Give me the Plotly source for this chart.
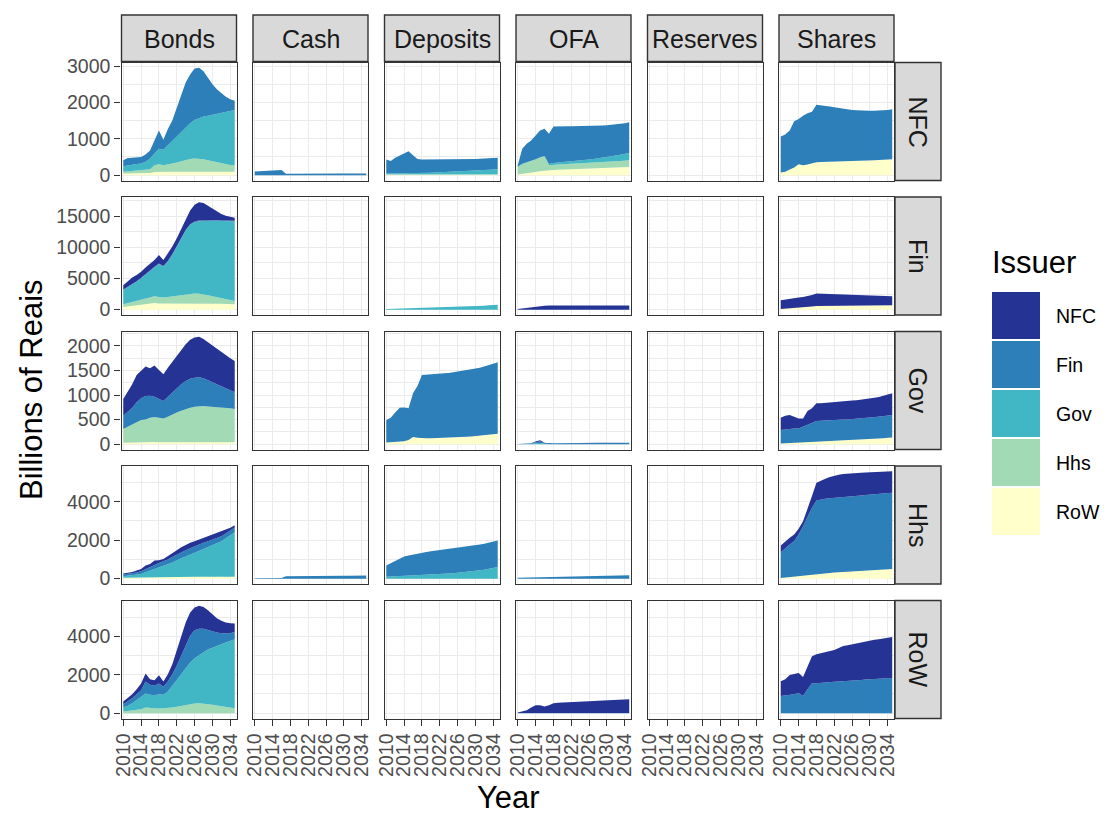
import plotly.graph_objects as go

years = list(range(2010, 2036))
instruments = ["Bonds", "Cash", "Deposits", "OFA", "Reserves", "Shares"]
holders = ["NFC", "Fin", "Gov", "Hhs", "RoW"]
issuers = ["NFC", "Fin", "Gov", "Hhs", "RoW"]
colors = {"NFC": "#253494", "Fin": "#2c7fb8", "Gov": "#41b6c4", "Hhs": "#a1dab4", "RoW": "#ffffcc"}

# ---------------- data (billions of reais), 2010..2035 ----------------
nfc_bonds = {
    "RoW": [45, 46, 48, 50, 52, 55, 58, 85, 90, 88, 90, 90, 90, 90, 90, 90, 90, 90, 90, 90, 90, 90, 90, 90, 90, 90],
    "Hhs": [45, 59, 70, 78, 84, 95, 106, 188, 210, 185, 200, 228, 255, 292, 328, 355, 365, 365, 346, 320, 292, 265, 237, 210, 192, 174],
    "Gov": [155, 165, 172, 177, 184, 215, 291, 317, 427, 427, 528, 618, 719, 798, 900, 982, 1063, 1118, 1174, 1226, 1282, 1335, 1391, 1445, 1491, 1526],
    "Fin": [165, 200, 190, 185, 180, 205, 225, 365, 503, 270, 452, 564, 796, 1050, 1227, 1343, 1417, 1377, 1250, 1044, 836, 670, 527, 410, 317, 255],
}
nfc_cash = {
    "Fin": [100, 105, 110, 115, 120, 130, 140, 40, 42, 42, 42, 42, 42, 43, 43, 43, 43, 44, 44, 44, 44, 45, 45, 45, 45, 45],
}
nfc_deposits = {
    "RoW": [15, 15, 15, 15, 15, 15, 15, 15, 15, 15, 15, 15, 15, 15, 15, 15, 15, 15, 15, 15, 15, 15, 15, 15, 15, 15],
    "Gov": [30, 30, 32, 35, 38, 40, 40, 42, 45, 48, 50, 55, 60, 65, 70, 75, 80, 85, 90, 95, 100, 110, 120, 130, 140, 150],
    "Fin": [382, 345, 433, 495, 557, 600, 490, 388, 367, 364, 362, 357, 352, 347, 342, 340, 337, 335, 333, 332, 331, 325, 320, 317, 315, 315],
}
nfc_ofa = {
    "RoW": [20, 40, 60, 80, 95, 110, 118, 136, 140, 145, 150, 155, 160, 165, 170, 175, 180, 185, 190, 195, 200, 205, 210, 215, 220, 227],
    "Hhs": [207, 260, 285, 302, 332, 372, 400, 137, 150, 150, 150, 150, 150, 150, 150, 150, 150, 150, 150, 155, 160, 165, 170, 175, 180, 183],
    "Gov": [10, 10, 10, 10, 10, 10, 10, 30, 46, 50, 55, 60, 65, 70, 80, 90, 100, 110, 120, 130, 140, 150, 160, 170, 185, 200],
    "Fin": [36, 417, 509, 563, 653, 735, 745, 833, 1000, 1000, 990, 980, 970, 960, 945, 930, 920, 910, 900, 885, 870, 860, 855, 850, 845, 845],
}
nfc_shares = {
    "RoW": [73, 91, 155, 209, 300, 273, 290, 318, 355, 358, 364, 368, 372, 376, 380, 384, 388, 392, 396, 400, 405, 410, 415, 420, 428, 436],
    "Fin": [991, 1027, 1072, 1273, 1245, 1363, 1410, 1427, 1581, 1569, 1545, 1522, 1492, 1469, 1438, 1416, 1402, 1390, 1377, 1373, 1368, 1363, 1358, 1360, 1362, 1373],
}

fin_bonds = {
    "RoW": [430, 510, 591, 672, 753, 860, 968, 1075, 968, 968, 1075, 1075, 1075, 1075, 1075, 1075, 1075, 1050, 1020, 1000, 980, 960, 940, 920, 890, 860],
    "Hhs": [430, 540, 645, 753, 860, 890, 914, 1075, 1075, 967, 968, 1075, 1183, 1290, 1398, 1455, 1505, 1480, 1453, 1310, 1170, 1030, 888, 745, 615, 538],
    "Gov": [2258, 2498, 2796, 3037, 3387, 3787, 4300, 4624, 5268, 4946, 5645, 6613, 7849, 9086, 10215, 11071, 11451, 11662, 11773, 11936, 12096, 12256, 12418, 12581, 12687, 12741],
    "Fin": [100, 100, 100, 100, 100, 100, 100, 100, 100, 100, 100, 100, 100, 100, 100, 100, 100, 100, 100, 100, 100, 100, 100, 100, 100, 100],
    "NFC": [707, 975, 1029, 975, 975, 1137, 1029, 1082, 1352, 975, 1244, 1244, 1243, 1349, 1727, 2212, 2696, 2911, 2750, 2320, 1782, 1352, 976, 707, 546, 491],
}
fin_deposits = {
    "Gov": [100, 120, 140, 160, 180, 200, 220, 240, 260, 280, 300, 320, 340, 365, 390, 415, 440, 470, 500, 530, 560, 600, 640, 690, 740, 800],
}
fin_ofa = {
    "NFC": [100, 200, 300, 400, 500, 580, 640, 650, 650, 650, 650, 650, 650, 650, 650, 650, 650, 650, 650, 650, 650, 650, 650, 650, 650, 650],
}
fin_shares = {
    "RoW": [108, 150, 190, 230, 269, 350, 430, 510, 591, 600, 605, 610, 615, 620, 625, 630, 635, 640, 645, 650, 660, 670, 675, 685, 690, 699],
    "NFC": [1397, 1490, 1584, 1625, 1666, 1693, 1720, 1855, 1989, 1960, 1935, 1910, 1885, 1860, 1835, 1810, 1785, 1760, 1735, 1690, 1640, 1590, 1555, 1515, 1480, 1451],
}

gov_bonds = {
    "RoW": [30, 32, 35, 38, 42, 50, 50, 45, 40, 40, 40, 40, 40, 40, 40, 40, 40, 40, 40, 40, 40, 40, 40, 40, 40, 40],
    "Hhs": [276, 322, 366, 418, 448, 453, 487, 506, 504, 484, 518, 565, 606, 640, 674, 701, 722, 735, 735, 728, 722, 715, 708, 701, 688, 674],
    "Fin": [272, 306, 340, 394, 442, 476, 449, 415, 374, 353, 408, 449, 490, 537, 571, 592, 591, 585, 565, 531, 496, 456, 422, 388, 367, 340],
    "NFC": [340, 408, 476, 558, 557, 599, 558, 632, 592, 544, 591, 626, 666, 701, 748, 789, 816, 823, 802, 775, 748, 727, 700, 673, 653, 639],
}
gov_deposits = {
    "RoW": [34, 38, 44, 50, 61, 82, 143, 129, 116, 118, 120, 122, 124, 127, 130, 136, 140, 145, 150, 156, 163, 170, 180, 190, 200, 211],
    "Fin": [456, 499, 602, 691, 687, 646, 891, 1054, 1292, 1294, 1295, 1298, 1305, 1313, 1320, 1326, 1335, 1345, 1353, 1364, 1374, 1387, 1398, 1415, 1435, 1455],
}
gov_ofa = {
    "Gov": [0, 0, 0, 5, 20, 25, 10, 0, 0, 0, 0, 0, 0, 0, 0, 0, 0, 0, 0, 0, 0, 0, 0, 0, 0, 0],
    "Fin": [5, 8, 10, 12, 20, 30, 15, 15, 18, 20, 20, 20, 20, 22, 22, 22, 24, 24, 24, 26, 26, 26, 28, 28, 30, 30],
    "NFC": [0, 0, 0, 0, 15, 25, 5, 0, 0, 0, 0, 0, 0, 0, 0, 0, 0, 0, 0, 0, 0, 0, 0, 0, 0, 0],
}
gov_shares = {
    "RoW": [14, 18, 22, 26, 30, 34, 39, 44, 48, 52, 55, 60, 64, 68, 72, 75, 80, 86, 91, 96, 102, 108, 115, 122, 129, 136],
    "Fin": [272, 281, 298, 294, 290, 320, 362, 378, 421, 424, 428, 427, 427, 427, 427, 428, 430, 431, 433, 434, 435, 440, 444, 448, 452, 456],
    "NFC": [251, 279, 272, 238, 204, 170, 272, 306, 361, 354, 353, 356, 359, 364, 369, 374, 376, 378, 380, 388, 395, 397, 401, 415, 429, 442],
}

hhs_bonds = {
    "RoW": [50, 55, 60, 65, 70, 80, 87, 90, 90, 90, 90, 92, 94, 96, 98, 100, 100, 100, 100, 100, 100, 100, 100, 100, 100, 100],
    "Gov": [72, 93, 114, 143, 173, 250, 330, 397, 466, 553, 640, 751, 862, 965, 1067, 1170, 1274, 1361, 1448, 1543, 1639, 1743, 1848, 1996, 2143, 2317],
    "Fin": [87, 87, 87, 112, 140, 166, 192, 226, 261, 261, 261, 279, 296, 304, 313, 313, 313, 313, 313, 305, 296, 279, 261, 252, 244, 244],
    "NFC": [52, 61, 87, 97, 121, 182, 156, 226, 139, 122, 174, 182, 226, 270, 278, 278, 261, 261, 243, 243, 226, 226, 226, 174, 156, 121],
}
hhs_cash = {
    "Fin": [20, 22, 25, 28, 30, 33, 36, 120, 125, 128, 130, 132, 134, 136, 138, 140, 142, 144, 146, 148, 150, 151, 152, 154, 155, 157],
}
hhs_deposits = {
    "Gov": [100, 110, 120, 130, 140, 150, 160, 170, 180, 190, 200, 215, 230, 245, 260, 280, 300, 320, 340, 370, 400, 430, 460, 500, 550, 600],
    "Fin": [580, 690, 800, 910, 1010, 1050, 1090, 1130, 1180, 1200, 1220, 1235, 1250, 1265, 1280, 1290, 1300, 1310, 1320, 1330, 1340, 1350, 1360, 1370, 1370, 1380],
}
hhs_ofa = {
    "Fin": [40, 45, 50, 55, 60, 65, 70, 75, 80, 85, 90, 95, 100, 105, 110, 115, 120, 125, 130, 135, 140, 145, 150, 160, 170, 180],
}
hhs_shares = {
    "RoW": [35, 60, 87, 105, 122, 165, 209, 235, 261, 278, 296, 310, 324, 338, 352, 365, 379, 393, 407, 421, 435, 449, 463, 476, 490, 504],
    "Fin": [1339, 1540, 1687, 1843, 2174, 2565, 3008, 3452, 3808, 3843, 3860, 3872, 3884, 3897, 3909, 3913, 3916, 3920, 3923, 3927, 3930, 3934, 3937, 3949, 3957, 3965],
    "NFC": [348, 348, 348, 348, 295, 261, 383, 608, 922, 992, 1044, 1105, 1148, 1165, 1182, 1192, 1200, 1192, 1183, 1172, 1165, 1155, 1147, 1135, 1123, 1113],
}

row_bonds = {
    "Hhs": [87, 122, 157, 183, 209, 296, 261, 252, 243, 252, 261, 296, 330, 383, 435, 470, 504, 522, 504, 470, 435, 400, 365, 330, 296, 261],
    "Gov": [209, 261, 365, 495, 643, 730, 695, 687, 748, 704, 869, 1130, 1392, 1652, 1913, 2173, 2365, 2521, 2678, 2851, 2991, 3113, 3235, 3357, 3478, 3600],
    "Fin": [174, 226, 261, 313, 348, 626, 522, 487, 557, 418, 522, 609, 747, 956, 1165, 1391, 1461, 1357, 1218, 1009, 834, 695, 574, 469, 400, 382],
    "NFC": [139, 174, 208, 261, 348, 417, 296, 296, 434, 278, 383, 521, 783, 1043, 1217, 1218, 1183, 1200, 1147, 1044, 905, 748, 643, 574, 521, 435],
}
row_ofa = {
    "Gov": [0, 0, 0, 10, 15, 15, 10, 5, 0, 0, 0, 0, 0, 0, 0, 0, 0, 0, 0, 0, 0, 0, 0, 0, 0, 0],
    "Fin": [5, 8, 10, 12, 15, 15, 12, 10, 10, 10, 10, 10, 10, 10, 10, 10, 10, 10, 10, 10, 10, 10, 10, 10, 10, 10],
    "NFC": [30, 79, 147, 274, 387, 387, 326, 402, 512, 529, 546, 559, 570, 582, 593, 605, 617, 628, 640, 651, 663, 674, 686, 697, 709, 720],
}
row_shares = {
    "Fin": [890, 915, 940, 990, 1045, 890, 1250, 1565, 1565, 1590, 1620, 1630, 1640, 1650, 1660, 1670, 1690, 1710, 1730, 1750, 1775, 1785, 1795, 1810, 1820, 1830],
    "NFC": [780, 860, 1045, 1050, 1045, 990, 1150, 1410, 1515, 1540, 1565, 1610, 1650, 1745, 1840, 1880, 1910, 1940, 1970, 2005, 2035, 2050, 2065, 2090, 2115, 2140],
}

panels = {
    ("NFC", "Bonds"): nfc_bonds, ("NFC", "Cash"): nfc_cash, ("NFC", "Deposits"): nfc_deposits,
    ("NFC", "OFA"): nfc_ofa, ("NFC", "Shares"): nfc_shares,
    ("Fin", "Bonds"): fin_bonds, ("Fin", "Deposits"): fin_deposits, ("Fin", "OFA"): fin_ofa,
    ("Fin", "Shares"): fin_shares,
    ("Gov", "Bonds"): gov_bonds, ("Gov", "Deposits"): gov_deposits, ("Gov", "OFA"): gov_ofa,
    ("Gov", "Shares"): gov_shares,
    ("Hhs", "Bonds"): hhs_bonds, ("Hhs", "Cash"): hhs_cash, ("Hhs", "Deposits"): hhs_deposits,
    ("Hhs", "OFA"): hhs_ofa, ("Hhs", "Shares"): hhs_shares,
    ("RoW", "Bonds"): row_bonds, ("RoW", "OFA"): row_ofa, ("RoW", "Shares"): row_shares,
}

y_tickvals = {
    "NFC": [0, 1000, 2000, 3000],
    "Fin": [0, 5000, 10000, 15000],
    "Gov": [0, 500, 1000, 1500, 2000],
    "Hhs": [0, 2000, 4000],
    "RoW": [0, 2000, 4000],
}
x_tickvals = [2010, 2014, 2018, 2022, 2026, 2030, 2034]

# ---------------- layout geometry (pixels) ----------------
W, H = 1107, 817
col_left = [121.5, 253, 384.5, 516, 647.5, 779]
col_w = 115
row_top = [62.5, 197, 331.5, 466, 600.5]
row_h = 118
strip_top = 15
strip_right_w = 46


def px(x):
    return x / W


def py(y):
    return 1 - y / H


FONT = "Liberation Sans, Arial, Helvetica, sans-serif"
TICK_SIZE = 19.5
STRIP_SIZE = 25
TITLE_SIZE = 31
stack_order = ["RoW", "Hhs", "Gov", "Fin", "NFC"]

fig = go.Figure()
layout = {}
shapes = []
annotations = []

for r, holder in enumerate(holders):
    # free y-scale per row (like ggplot facet_grid scales="free_y")
    row_max = 0
    for inst in instruments:
        d = panels.get((holder, inst), {})
        if d:
            tot = [sum(d[k][i] for k in d) for i in range(len(years))]
            row_max = max(row_max, max(tot))
    yr = [-0.05 * row_max, 1.05 * row_max]
    step = y_tickvals[holder][1] - y_tickvals[holder][0]

    for c, inst in enumerate(instruments):
        idx = r * 6 + c + 1
        xa = "x" if idx == 1 else f"x{idx}"
        ya = "y" if idx == 1 else f"y{idx}"
        d = panels.get((holder, inst), {})
        # invisible anchor trace so that every facet panel is drawn
        fig.add_trace(go.Scatter(x=[years[0]], y=[0], mode="markers", marker=dict(opacity=0),
                                 hoverinfo="skip", showlegend=False, xaxis=xa, yaxis=ya))
        for iss in stack_order:
            if iss in d:
                fig.add_trace(go.Scatter(
                    x=years, y=d[iss], mode="lines", stackgroup=f"g{idx}",
                    line=dict(width=0, color=colors[iss]), fillcolor=colors[iss],
                    name=iss, showlegend=False, xaxis=xa, yaxis=ya,
                ))
        bottom = r == len(holders) - 1
        left = c == 0
        layout["xaxis" if idx == 1 else f"xaxis{idx}"] = dict(
            domain=[px(col_left[c]), px(col_left[c] + col_w)],
            anchor=ya, range=[2009.6, 2035.4], automargin=False,
            tickvals=x_tickvals, ticktext=[str(v) for v in x_tickvals],
            showgrid=True, gridcolor="#ebebeb", gridwidth=1.3,
            zeroline=False, showline=True, mirror=True, linecolor="#333333", linewidth=1.4,
            ticks="outside" if bottom else "", ticklen=6, tickwidth=1.4, tickcolor="#333333",
            showticklabels=bottom, tickangle=-90,
            tickfont=dict(family=FONT, size=TICK_SIZE, color="#4d4d4d"),
        )
        layout["yaxis" if idx == 1 else f"yaxis{idx}"] = dict(
            domain=[py(row_top[r] + row_h), py(row_top[r])],
            anchor=xa, range=yr, automargin=False,
            tickvals=y_tickvals[holder], ticktext=[str(v) for v in y_tickvals[holder]],
            showgrid=True, gridcolor="#ebebeb", gridwidth=1.3,
            minor=dict(dtick=step / 2, tick0=step / 2, showgrid=True, gridcolor="#ebebeb",
                       gridwidth=0.7, ticks=""),
            zeroline=False, showline=True, mirror=True, linecolor="#333333", linewidth=1.4,
            ticks="outside" if left else "", ticklen=6, tickwidth=1.4, tickcolor="#333333",
            showticklabels=left,
            tickfont=dict(family=FONT, size=TICK_SIZE, color="#4d4d4d"),
        )

# top strips
for c, inst in enumerate(instruments):
    shapes.append(dict(type="rect", xref="paper", yref="paper",
                       x0=px(col_left[c]), x1=px(col_left[c] + col_w),
                       y0=py(row_top[0] - 1), y1=py(strip_top),
                       fillcolor="#d9d9d9", line=dict(color="#333333", width=1.4), layer="below"))
    annotations.append(dict(x=px(col_left[c] + col_w / 2), y=py((strip_top + row_top[0]) / 2),
                            xref="paper", yref="paper", text=inst, showarrow=False,
                            xanchor="center", yanchor="middle",
                            font=dict(family=FONT, size=STRIP_SIZE, color="#1a1a1a")))
# right strips
sx0 = col_left[-1] + col_w + 1
for r, holder in enumerate(holders):
    shapes.append(dict(type="rect", xref="paper", yref="paper",
                       x0=px(sx0), x1=px(sx0 + strip_right_w),
                       y0=py(row_top[r] + row_h), y1=py(row_top[r]),
                       fillcolor="#d9d9d9", line=dict(color="#333333", width=1.4), layer="below"))
    annotations.append(dict(x=px(sx0 + strip_right_w / 2), y=py(row_top[r] + row_h / 2),
                            xref="paper", yref="paper", text=holder, showarrow=False, textangle=90,
                            xanchor="center", yanchor="middle",
                            font=dict(family=FONT, size=STRIP_SIZE, color="#1a1a1a")))

# axis titles
annotations.append(dict(x=px(31), y=py(390), xref="paper", yref="paper", text="Billions of Reais",
                        showarrow=False, textangle=-90, xanchor="center", yanchor="middle",
                        font=dict(family=FONT, size=TITLE_SIZE, color="#000000")))
annotations.append(dict(x=px(508), y=py(797), xref="paper", yref="paper", text="Year",
                        showarrow=False, xanchor="center", yanchor="middle",
                        font=dict(family=FONT, size=TITLE_SIZE, color="#000000")))

# legend (Issuer)
annotations.append(dict(x=px(990), y=py(262), xref="paper", yref="paper", text="Issuer",
                        showarrow=False, xanchor="left", yanchor="middle",
                        font=dict(family=FONT, size=TITLE_SIZE, color="#000000")))
key_top = 292
key_h = 49
for i, iss in enumerate(issuers):
    y0 = key_top + i * key_h
    shapes.append(dict(type="rect", xref="paper", yref="paper",
                       x0=px(992), x1=px(1040), y0=py(y0 + key_h - 2), y1=py(y0),
                       fillcolor=colors[iss], line=dict(width=0)))
    annotations.append(dict(x=px(1054), y=py(y0 + (key_h - 2) / 2), xref="paper", yref="paper",
                            text=iss, showarrow=False, xanchor="left", yanchor="middle",
                            font=dict(family=FONT, size=TICK_SIZE, color="#000000")))

fig.update_layout(
    width=W, height=H, autosize=False,
    margin=dict(l=0, r=0, t=0, b=0),
    paper_bgcolor="white", plot_bgcolor="white",
    showlegend=False, shapes=shapes, annotations=annotations,
    **layout,
)

# remove the default 8px page margin so the figure sits at the window origin
fig.write_html("out.html", config={"displayModeBar": False},
               post_script="document.body.style.margin='0';")
